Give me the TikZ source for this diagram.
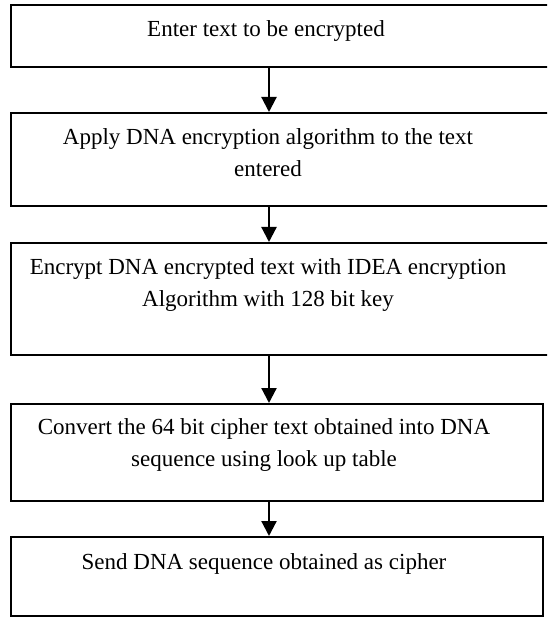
\documentclass[tikz,border=0pt]{standalone}
\usepackage{fontspec}
\setmainfont{Liberation Serif}
\usetikzlibrary{arrows.meta}

\begin{document}
\begin{tikzpicture}[x=1pt, y=-1pt,
  stepbox/.style={draw, line width=2.2pt, rectangle, inner sep=0pt, anchor=north west},
  steptext/.style={anchor=base, inner sep=0pt, font=\fontsize{23}{32}\selectfont},
  flow/.style={line width=2.2pt, -{Triangle[width=15pt, length=15pt]}}]
  \useasboundingbox (0,0) rectangle (547,617);
  \clip (0,0) rectangle (547,617);

  % process boxes (the upper three run past the right edge)
  \node[stepbox, minimum width=545pt, minimum height=62pt]  (b1) at (10,4)   {};
  \node[stepbox, minimum width=545pt, minimum height=93pt]  (b2) at (10,112) {};
  \node[stepbox, minimum width=545pt, minimum height=112pt] (b3) at (10,242) {};
  \node[stepbox, minimum width=532pt, minimum height=97pt]  (b4) at (10,403) {};
  \node[stepbox, minimum width=532pt, minimum height=79pt]  (b5) at (10,536) {};

  % box labels, anchored on the baseline of their first line
  \node[steptext] (t1) at (266,37)
    {\begin{tabular}[t]{@{}c@{}}Enter text to be encrypted\end{tabular}};
  \node[steptext] (t2) at (268,145)
    {\begin{tabular}[t]{@{}c@{}}Apply DNA encryption algorithm to the text\\ entered\end{tabular}};
  \node[steptext] (t3) at (268,274)
    {\begin{tabular}[t]{@{}c@{}}Encrypt DNA encrypted text with IDEA encryption\\ Algorithm with 128 bit key\end{tabular}};
  \node[steptext] (t4) at (264,434)
    {\begin{tabular}[t]{@{}c@{}}Convert the 64 bit cipher text obtained into DNA\\ sequence using look up table\end{tabular}};
  \node[steptext] (t5) at (264,569)
    {\begin{tabular}[t]{@{}c@{}}Send DNA sequence obtained as cipher\end{tabular}};

  % vertical flow line
  \coordinate (axis) at (269,0);
  \draw[flow] (b1.south -| axis) -- (b2.north -| axis);
  \draw[flow] (b2.south -| axis) -- (b3.north -| axis);
  \draw[flow] (b3.south -| axis) -- (b4.north -| axis);
  \draw[flow] (b4.south -| axis) -- (b5.north -| axis);
\end{tikzpicture}
\end{document}
